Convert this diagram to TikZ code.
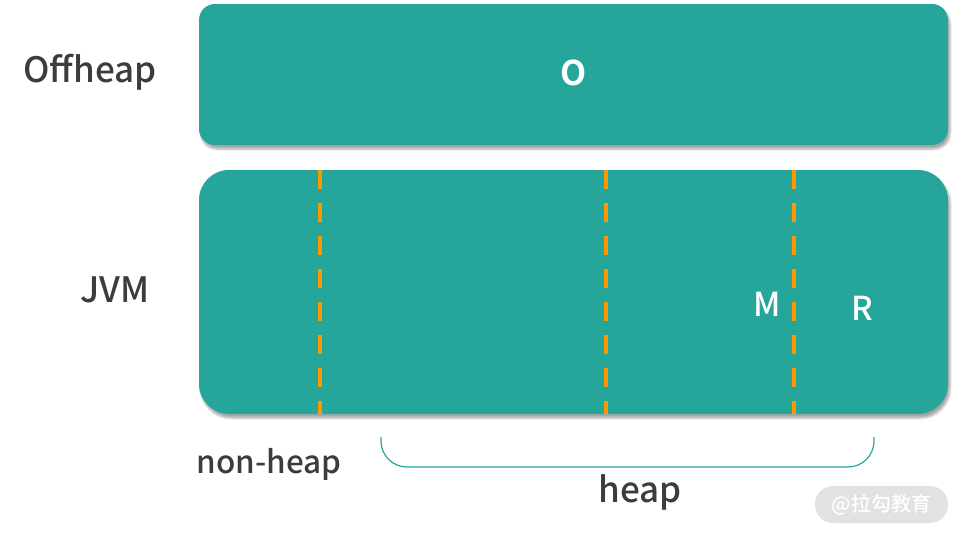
\documentclass[tikz,border=0pt]{standalone}
\usepackage{fontspec}
\setmainfont{Noto Sans CJK SC}[UprightFont={* Medium}]
\newfontfamily\cjk{Noto Sans CJK SC}[UprightFont={* Medium}]
\newfontfamily\heavyf{Noto Sans CJK SC}[UprightFont={* Bold}]
\usetikzlibrary{shadows.blur}
\definecolor{teal1}{HTML}{26A69A}
\definecolor{orng}{HTML}{FF9800}
\definecolor{txt}{HTML}{3C3C3C}
\definecolor{wm}{HTML}{E2E2E2}
\begin{document}
\begin{tikzpicture}[x=1pt,y=-1pt,
  panel/.style={fill=teal1, draw=none, blur shadow={shadow xshift=2pt, shadow yshift=-4pt, shadow blur steps=6, shadow opacity=35}},
  lbl/.style={text=txt, font=\fontsize{35}{38}\selectfont, inner sep=0pt},
  wlbl/.style={text=white, font=\fontsize{33}{36}\selectfont, inner sep=0pt},
  divider/.style={orng, line width=4.3pt, dash pattern=on 19pt off 14pt}]
\useasboundingbox (0,0) rectangle (962,536);
\path[panel, rounded corners=16pt] (199,4) rectangle (948,145);
\path[panel, rounded corners=30pt] (199,170) rectangle (948,414);
\coordinate (d1t) at (320,170); \coordinate (d1b) at (320,414);
\coordinate (d2t) at (606,170); \coordinate (d2b) at (606,414);
\coordinate (d3t) at (794,170); \coordinate (d3b) at (794,414);
\draw[divider] (d1t) -- (d1b);
\draw[divider] (d2t) -- (d2b);
\draw[divider] (d3t) -- (d3b);
\node[lbl] (off) at (90,72) {Offheap};
\node[lbl] (jvm) at (115,290) {JVM};
\node[wlbl, font=\heavyf\fontsize{34}{36}\selectfont] (o) at (574,73) {O};
\node[wlbl, font=\fontsize{33}{36}\selectfont] (m) at (767,304) {M};
\node[wlbl, font=\fontsize{33}{36}\selectfont] (r) at (862,308) {R};
\node[lbl, font=\fontsize{31.5}{34}\selectfont] (nh) at (269,464) {non-heap};
\node[lbl] (hp) at (640,492) {heap};
\coordinate (bl) at (381,437);
\coordinate (br) at (874,437);
\draw[teal1, line width=1.2pt, rounded corners=26pt] (bl) -- (381,467) -- (874,467) -- (br);
\node[fill=wm, rounded corners=18pt, minimum width=133pt, minimum height=37pt, inner sep=0pt, text=white, font=\cjk\fontsize{20}{23}\selectfont] (wmk) at (881.5,504.5) {@拉勾教育};
\end{tikzpicture}
\end{document}
